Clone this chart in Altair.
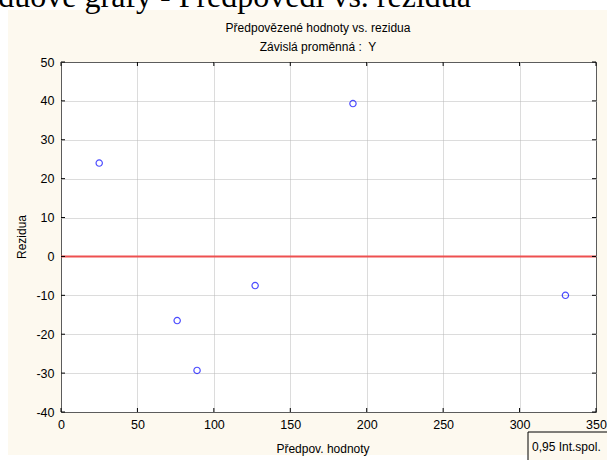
import altair as alt
import pandas as pd

# data
pred = [25, 76, 89, 127, 191, 330]
resid = [24.0, -16.5, -29.3, -7.5, 39.3, -10.0]
x_ticks = [0, 50, 100, 150, 200, 250, 300, 350]
y_ticks = [-40, -30, -20, -10, 0, 10, 20, 30, 40, 50]

W, H = 535, 350
PL, PT = 61, 62
CREAM = "#fdf9ef"
FONT = "Liberation Sans"

df = pd.DataFrame({"x": pred, "y": resid})
xs = alt.Scale(domain=[0, 350], nice=False, zero=False)
ys = alt.Scale(domain=[-40, 50], nice=False, zero=False)

common = dict(title=None, grid=True, ticks=False, domain=False, labelOverlap=False,
              labelFlush=False,
              labelFontSize=12.5, labelFont=FONT, labelColor="black",
              gridColor="#b8b8b8", gridDash=[1, 1], zindex=0,
              labelExpr="'' + datum.value")
x_axis = alt.Axis(values=x_ticks, labelPadding=6, **common)
y_axis = alt.Axis(values=y_ticks, labelPadding=7, **common)

base = alt.Chart(df)

points = base.mark_point(shape="circle", filled=False, color="#0000ff", size=40, strokeWidth=1.2).encode(
    x=alt.X("x:Q", scale=xs, axis=x_axis),
    y=alt.Y("y:Q", scale=ys, axis=y_axis),
)

zero = alt.Chart(pd.DataFrame({"y": [0]})).mark_rule(color="#ee5050", strokeWidth=2).encode(
    y=alt.Y("y:Q", scale=ys, axis=y_axis), x=alt.value(0), x2=alt.value(W)
)

# inward tick marks
xt = pd.DataFrame({"x": x_ticks})
yt = pd.DataFrame({"y": y_ticks})
tick_b = alt.Chart(xt).mark_rule(color="black").encode(
    x=alt.X("x:Q", scale=xs, axis=x_axis), y=alt.value(H - 4), y2=alt.value(H))
tick_t = alt.Chart(xt).mark_rule(color="black").encode(
    x=alt.X("x:Q", scale=xs, axis=x_axis), y=alt.value(0), y2=alt.value(4))
tick_l = alt.Chart(yt).mark_rule(color="black").encode(
    y=alt.Y("y:Q", scale=ys, axis=y_axis), x=alt.value(0), x2=alt.value(4))
tick_r = alt.Chart(yt).mark_rule(color="black").encode(
    y=alt.Y("y:Q", scale=ys, axis=y_axis), x=alt.value(W - 4), x2=alt.value(W))

# white margins around the cream panel
one = pd.DataFrame({"a": [0]})
white_top = alt.Chart(one).mark_rect(color="white").encode(
    x=alt.value(-PL), x2=alt.value(W + 20), y=alt.value(-PT), y2=alt.value(10 - PT))
white_left = alt.Chart(one).mark_rect(color="white").encode(
    x=alt.value(-PL), x2=alt.value(8 - PL), y=alt.value(-PT), y2=alt.value(460 - PT))
white_bot = alt.Chart(one).mark_rect(color="white").encode(
    x=alt.value(-PL), x2=alt.value(W + 20), y=alt.value(455 - PT), y2=alt.value(470 - PT))

def txt(s, x, y, size=12, font=FONT, align="center", angle=0, baseline="middle"):
    return alt.Chart(pd.DataFrame({"t": [s]})).mark_text(
        font=font, fontSize=size, align=align, baseline=baseline, angle=angle, color="black"
    ).encode(text="t:N", x=alt.value(x), y=alt.value(y))

top_text = txt("Reziduové grafy - Předpovědi vs. rezidua", 471 - PL, 7 - PT, size=32,
               font="Liberation Serif", align="right", baseline="alphabetic")
t1 = txt("Předpovězené hodnoty vs. rezidua", 318 - PL, 28 - PT)
t2 = txt("Závislá proměnná :\u00a0 Y", 318 - PL, 47 - PT)
ytitle = txt("Rezidua", 22 - PL, 237 - PT, angle=270)
xtitle = txt("Předpov. hodnoty", 323 - PL, 449 - PT)

legend_box = alt.Chart(one).mark_rect(fill=CREAM, stroke="black", strokeWidth=1).encode(
    x=alt.value(528 - PL), x2=alt.value(620 - PL), y=alt.value(432 - PT), y2=alt.value(470 - PT))
legend_txt = txt("0,95 Int.spol.", 532 - PL, 447 - PT, align="left")

chart = alt.layer(
    points, zero, tick_b, tick_t, tick_l, tick_r,
    white_top, white_left, white_bot, top_text,
    t1, t2, ytitle, xtitle, legend_box, legend_txt,
).properties(
    width=W, height=H,
    autosize=alt.AutoSizeParams(type="none"),
    padding={"left": PL, "top": PT, "right": 607 - PL - W, "bottom": 460 - PT - H},
    background=CREAM,
).configure_view(fill="white", stroke="black", strokeWidth=1)

chart.save("out.html", embed_options={"renderer": "svg", "actions": False})
